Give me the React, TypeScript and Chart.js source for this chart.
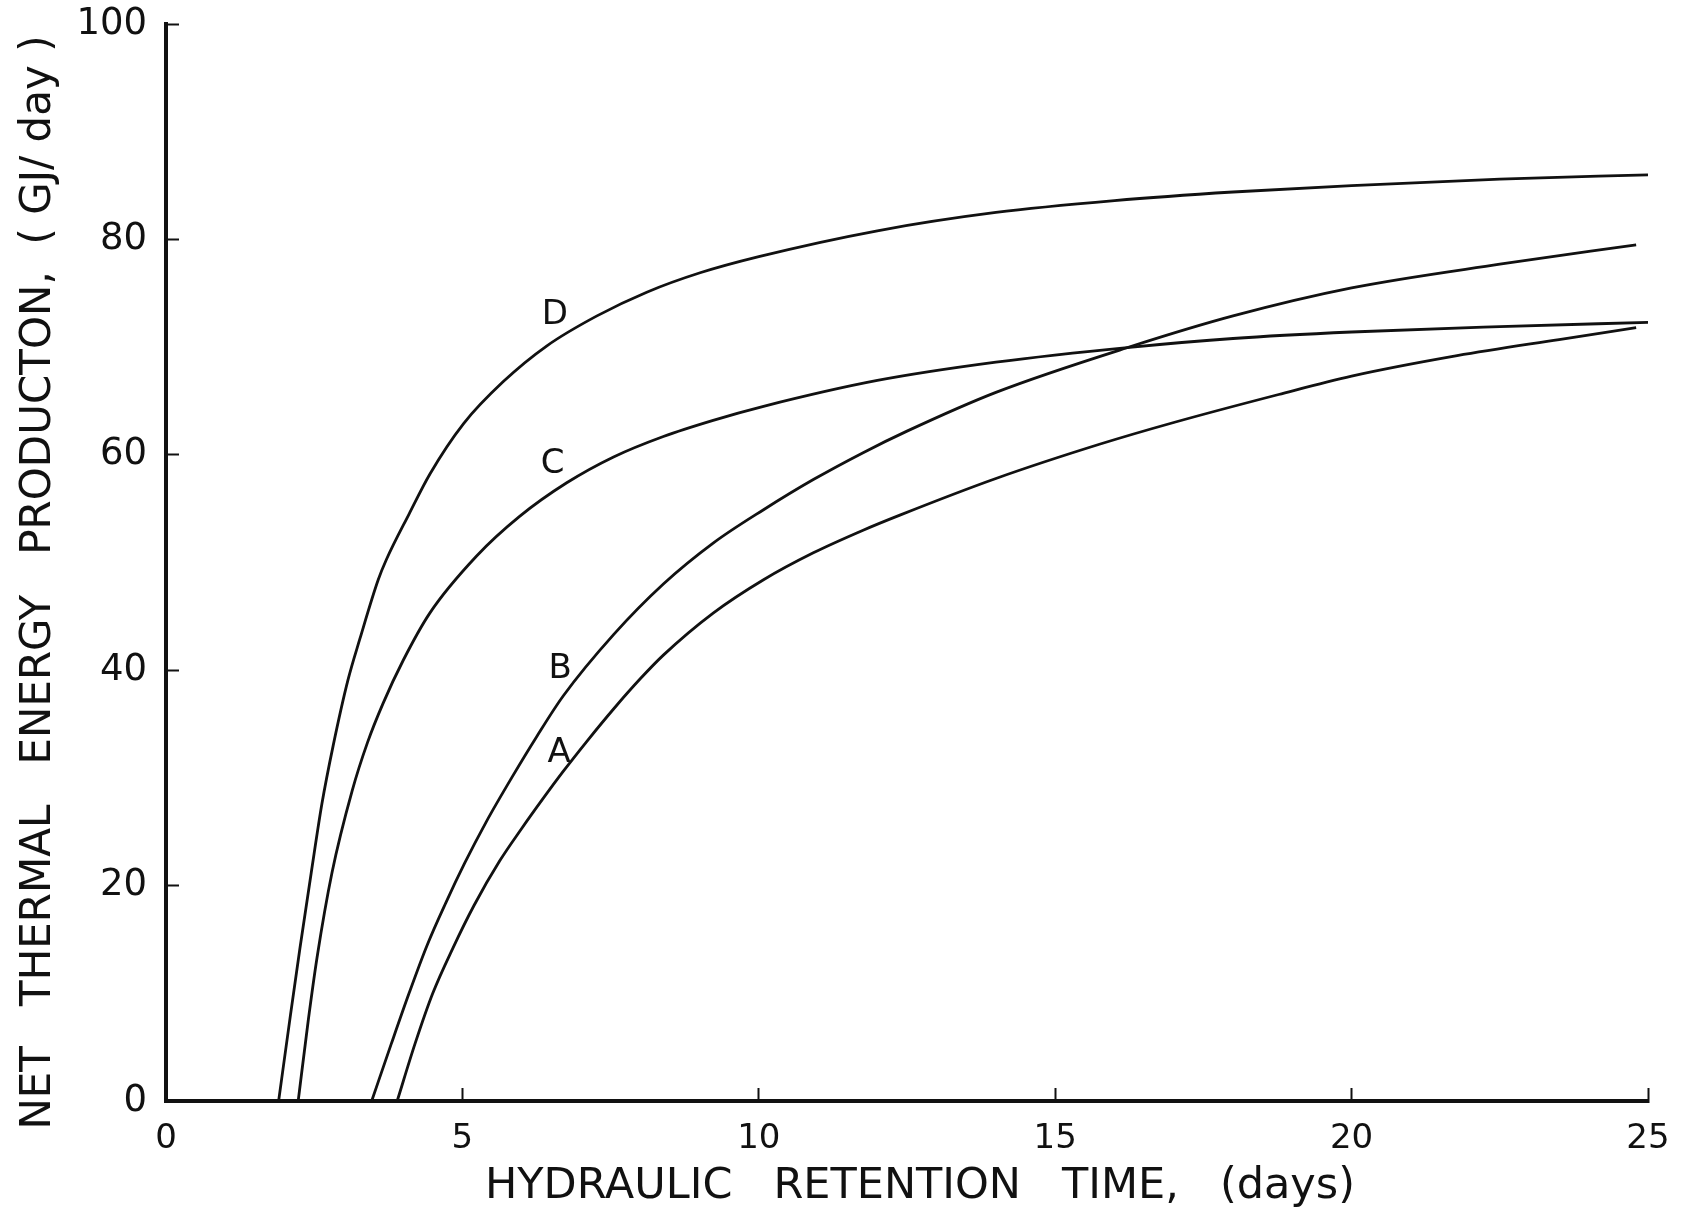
import React, { useEffect, useRef } from 'react';
import { Chart, registerables } from 'chart.js';

Chart.register(...registerables);

const FONT = "'DejaVu Sans', 'Liberation Sans', sans-serif";
const INK = '#111';

// Axis ticks
const xTicks = [0, 5, 10, 15, 20, 25];
const yTicks = [0, 20, 40, 60, 80, 100];

// Curve A
const aX = [3.9, 4.2, 4.5, 4.84, 5.2, 5.63, 6.0, 6.35, 6.7, 7.1, 7.55, 8.0, 8.39, 9.23, 10.08, 10.92, 11.76, 12.38, 14, 15.76, 17, 18.77, 20, 21.78, 23.5, 24.8];
const aY = [0, 5.3, 10.0, 14.2, 18.2, 22.3, 25.3, 28.0, 30.6, 33.4, 36.4, 39.2, 41.4, 45.3, 48.4, 50.9, 53.0, 54.4, 57.8, 61.0, 63.0, 65.6, 67.3, 69.2, 70.7, 71.8];

// Curve B
const bX = [3.47, 3.8, 4.1, 4.4, 4.72, 5.04, 5.4, 5.83, 6.25, 6.7, 7.55, 8.39, 9.23, 10.08, 10.92, 11.76, 12.5, 14, 16.3, 18, 20, 22.5, 24.8];
const bY = [0, 5.3, 10.0, 14.4, 18.4, 22.1, 25.9, 30.0, 33.8, 37.6, 43.3, 48.0, 51.8, 54.9, 57.7, 60.2, 62.2, 65.8, 70.1, 72.9, 75.5, 77.7, 79.5];

// Curve C
const cX = [2.23, 2.4, 2.55, 2.8, 3.14, 3.4, 3.66, 4.0, 4.45, 5.24, 5.97, 6.76, 7.55, 8.39, 9.23, 10.08, 12, 14, 16.3, 18, 20, 22.5, 25];
const cY = [0, 7.5, 13.4, 21.2, 28.8, 33.3, 36.9, 40.9, 45.3, 50.6, 54.3, 57.4, 59.8, 61.7, 63.2, 64.5, 66.9, 68.6, 70.0, 70.8, 71.4, 71.9, 72.3];

// Curve D
const dX = [1.9, 2.1, 2.26, 2.45, 2.63, 2.82, 3.07, 3.27, 3.58, 3.72, 4.1, 4.45, 5.02, 5.69, 6.42, 7.27, 8.11, 9.01, 10, 12, 14, 16, 18, 20, 22.5, 25];
const dY = [0, 8.0, 14.2, 21.2, 27.6, 33.0, 39.1, 42.9, 48.4, 50.3, 54.5, 58.2, 62.9, 66.8, 70.1, 72.9, 75.1, 76.9, 78.4, 80.8, 82.5, 83.6, 84.4, 85.0, 85.6, 86.0];

// Curve labels (placed in data coordinates)
const curveLabels = ['A', 'B', 'C', 'D'];
const labelX = [6.63, 6.65, 6.52, 6.56];
const labelY = [32.3, 40.1, 59.1, 73.0];

const xTitle = 'HYDRAULIC   RETENTION   TIME,   (days)';
const yTitle = 'NET   THERMAL   ENERGY   PRODUCTON,  ( GJ/ day )';

const annotations = {
  id: 'annotations',
  afterDraw(chart: any) {
    const { ctx, chartArea, scales } = chart;
    ctx.save();
    ctx.fillStyle = INK;
    // curve labels
    ctx.font = `34px ${FONT}`;
    ctx.textAlign = 'center';
    ctx.textBaseline = 'middle';
    curveLabels.forEach((t, i) => {
      ctx.fillText(t, scales.x.getPixelForValue(labelX[i]), scales.y.getPixelForValue(labelY[i]));
    });
    // x title
    ctx.font = `43px ${FONT}`;
    ctx.fillText(xTitle, (chartArea.left + chartArea.right) / 2 + 13, chartArea.bottom + 86);
    // y title
    ctx.font = `42px ${FONT}`;
    ctx.translate(chartArea.left - 127, (chartArea.top + chartArea.bottom) / 2 + 20);
    ctx.rotate(-Math.PI / 2);
    ctx.fillText(yTitle, 0, 0);
    ctx.restore();
  },
};

function series(label: string, xs: number[], ys: number[]) {
  return {
    label,
    data: xs.map((x, i) => ({ x, y: ys[i] })),
    borderColor: INK,
    borderWidth: 2.8,
    pointRadius: 0,
    fill: false,
    cubicInterpolationMode: 'monotone' as const,
  };
}

export default function App() {
  const ref = useRef<HTMLCanvasElement>(null);
  useEffect(() => {
    document.body.style.margin = '0';
    const canvas = ref.current!;
    const chart = new Chart(canvas, {
      type: 'line',
      data: {
        datasets: [series('A', aX, aY), series('B', bX, bY), series('C', cX, cY), series('D', dX, dY)],
      },
      options: {
        responsive: false,
        animation: false,
        layout: { padding: { top: 24, right: 37, left: 0, bottom: 0 } },
        plugins: { legend: { display: false }, tooltip: { enabled: false } },
        scales: {
          x: {
            type: 'linear',
            min: 0,
            max: 25,
            afterBuildTicks: (s: any) => {
              s.ticks = xTicks.map((v) => ({ value: v }));
            },
            afterFit: (s: any) => {
              s.height = 113;
              s.paddingLeft = 0;
              s.paddingRight = 0;
            },
            grid: { drawOnChartArea: false, tickLength: -13, tickWidth: 2, tickColor: INK },
            border: { display: true, width: 4, color: INK },
            ticks: { padding: 31, color: INK, font: { size: 34, family: FONT }, maxRotation: 0 },
          },
          y: {
            type: 'linear',
            min: 0,
            max: 100,
            afterBuildTicks: (s: any) => {
              s.ticks = yTicks.map((v) => ({ value: v }));
            },
            afterFit: (s: any) => {
              s.width = 166;
              s.paddingTop = 0;
              s.paddingBottom = 0;
            },
            grid: { drawOnChartArea: false, tickLength: -13, tickWidth: 2, tickColor: INK },
            border: { display: true, width: 4, color: INK },
            ticks: { padding: 32, color: INK, font: { size: 37, family: FONT } },
          },
        },
      },
      plugins: [annotations],
    });
    return () => chart.destroy();
  }, []);
  return (
    <div style={{ width: 1685, height: 1214, background: '#fff' }}>
      <canvas ref={ref} width={1685} height={1214} style={{ display: 'block' }} />
    </div>
  );
}
